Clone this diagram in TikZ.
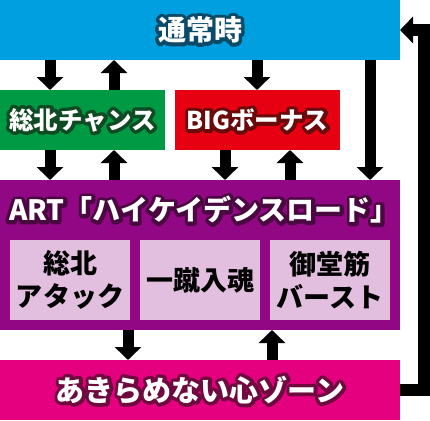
\documentclass[tikz,border=0pt]{standalone}
\usepackage{fontspec}
\setmainfont{Noto Sans CJK JP}
\newfontfamily\jpblack{Noto Sans CJK JP Black}
\usetikzlibrary{arrows.meta}
\definecolor{cblue}{HTML}{00A0E0}
\definecolor{cgreen}{HTML}{009944}
\definecolor{cred}{HTML}{E60012}
\definecolor{cpurple}{HTML}{920783}
\definecolor{clight}{HTML}{E3BFDF}
\definecolor{cpink}{HTML}{E4007F}
\definecolor{dblue}{HTML}{0B4A68}
\definecolor{dgreen}{HTML}{0E4A22}
\definecolor{dred}{HTML}{6A0A0A}
\definecolor{dpurple}{HTML}{4A0840}
\definecolor{dpink}{HTML}{6E0A3E}
\newcommand{\otext}[2]{\leavevmode\rlap{\special{pdf:literal direct q 1 Tr 7 w 1 j}\textcolor{#1}{#2}\special{pdf:literal direct Q}}\textcolor{white}{#2}}
\begin{document}
\begin{tikzpicture}[x=1pt,y=-1pt,
  box/.style={anchor=north west,inner sep=0pt,outer sep=0pt},
  lbl/.style={inner sep=0pt,font=\jpblack\fontsize{28}{30}\selectfont},
  inner/.style={box,fill=clight,minimum width=120pt,minimum height=80pt,align=center,
     font=\jpblack\fontsize{27}{33}\selectfont,text=black},
  arr/.style={line width=11pt,-{Triangle[width=26pt,length=13pt]}},
  loop/.style={line width=12pt,line join=miter,-{Triangle[width=26pt,length=13pt]}}]
\useasboundingbox (0,0) rectangle (430,420);
\fill[white] (0,0) rectangle (430,420);
\node[box,fill=cblue,minimum width=400pt,minimum height=60pt,lbl] (top) at (0,0) {\otext{dblue}{通常時}};
\node[box,fill=cgreen,minimum width=165pt,minimum height=60pt,lbl,font=\jpblack\fontsize{24.5}{28}\selectfont] (green) at (0,90) {\otext{dgreen}{総北チャンス}};
\node[box,fill=cred,minimum width=165pt,minimum height=60pt,lbl,font=\jpblack\fontsize{24.5}{28}\selectfont] (red) at (175,90) {\otext{dred}{BIGボーナス}};
\node[box,fill=cpurple,minimum width=400pt,minimum height=150pt] (art) at (0,180) {};
\node[lbl] (arttitle) at (204,210) {\otext{dpurple}{ART「ハイケイデンスロード」}};
\node[inner] (i1) at (10,240) {総北\\アタック};
\node[inner] (i2) at (140,240) {一蹴入魂};
\node[inner] (i3) at (270,240) {御堂筋\\バースト};
\node[box,fill=cpink,minimum width=400pt,minimum height=60pt,lbl,font=\jpblack\fontsize{29}{30}\selectfont] (pink) at (0,360) {\otext{dpink}{あきらめない心ゾーン}};
% arrows
\draw[arr] ([xshift=50pt]top.south west) -- ([xshift=50pt]green.north west);
\draw[arr] ([xshift=114pt]green.north west) -- ([xshift=114pt]top.south west);
\draw[arr] ([xshift=257pt]top.south west) -- ([xshift=82pt]red.north west);
\draw[arr] ([xshift=370pt]top.south west) -- ([xshift=370pt]art.north west);
\draw[arr] ([xshift=50pt]green.south west) -- ([xshift=50pt]art.north west);
\draw[arr] ([xshift=114pt]art.north west) -- ([xshift=114pt]green.south west);
\draw[arr] ([xshift=50pt]red.south west) -- ([xshift=225pt]art.north west);
\draw[arr] ([xshift=290pt]art.north west) -- ([xshift=115pt]red.south west);
\draw[arr] ([xshift=128pt]art.south west) -- ([xshift=128pt]pink.north west);
\draw[arr] ([xshift=272pt]pink.north west) -- ([xshift=272pt]art.south west);
\draw[loop] (pink.east) -- ++(24,0) |- (top.east);
\end{tikzpicture}
\end{document}
